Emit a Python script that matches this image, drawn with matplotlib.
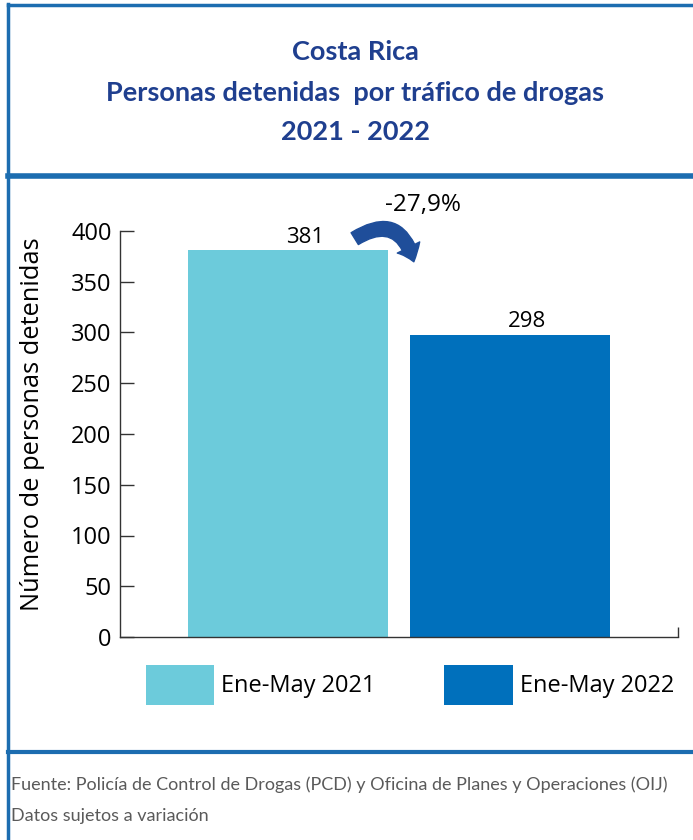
import matplotlib.pyplot as plt
from matplotlib.patches import FancyArrowPatch
from matplotlib.lines import Line2D

# data
categories = ["Ene-May 2021", "Ene-May 2022"]
values = [381, 298]
bar_colors = ["#6ccbdb", "#0070bc"]
change_label = "-27,9%"
y_ticks = [0, 50, 100, 150, 200, 250, 300, 350, 400]

title_lines = ["Costa Rica", "Personas detenidas  por tráfico de drogas", "2021 - 2022"]
source_lines = ["Fuente: Policía de Control de Drogas (PCD) y Oficina de Planes y Operaciones (OIJ)",
                "Datos sujetos a variación"]

W, H = 693, 840
plt.rcParams['font.family'] = ['Open Sans', 'DejaVu Sans']
fig = plt.figure(figsize=(W / 100, H / 100), dpi=100)

border = "#1c6db0"
# frame lines (figure pixels -> fractions)
def fx(px):
    return px / W

def fy(py):
    return 1 - py / H

fig.add_artist(Line2D([fx(8), 1], [fy(5), fy(5)], color=border, lw=2.5))
fig.add_artist(Line2D([fx(8), fx(8)], [fy(4), 0], color=border, lw=2.5))
fig.add_artist(Line2D([fx(8), 1], [fy(176), fy(176)], color=border, lw=4))
fig.add_artist(Line2D([fx(8), 1], [fy(752), fy(752)], color=border, lw=3))

# title
title_color = "#1f3f8f"
for line, ypx in zip(title_lines, [52, 93, 132]):
    fig.text(fx(355), fy(ypx), line, ha="center", va="center", color=title_color,
             fontsize=19.5, fontweight="bold", family=["Lato", "DejaVu Sans"])

# axes
ax = fig.add_axes([fx(120), fy(637), fx(678) - fx(120), fy(231) - fy(637)])
x = range(len(categories))
bars = ax.bar(x, values, width=0.9, color=bar_colors, label=categories)
ax.set_xlim(-0.757, 1.757)
ax.set_ylim(0, 400)
ax.set_yticks(y_ticks)
ax.set_xticks([1.757])
ax.set_xticklabels([])
ax.tick_params(axis="y", direction="in", length=10, width=1, labelsize=17, pad=6, color="#333333")
ax.tick_params(axis="x", direction="in", length=7, width=1, color="#333333")
for s in ["top", "right"]:
    ax.spines[s].set_visible(False)
for s in ["left", "bottom"]:
    ax.spines[s].set_color("#333333")
    ax.spines[s].set_linewidth(1)

# value labels
for xi, v in zip(x, values):
    ax.annotate(str(v), (xi, v), xytext=(12, 2), textcoords="offset points",
                ha="center", va="bottom", fontsize=16)

# curved arrow with the change
arrow = FancyArrowPatch((0.29, 391), (0.57, 367), connectionstyle="arc3,rad=-0.7",
                        arrowstyle="simple,head_width=18,head_length=11,tail_width=10",
                        color="#1f4e9a", clip_on=False)
ax.add_patch(arrow)
fig.text(fx(423), fy(205), change_label, ha="center", va="center", fontsize=17.5)

fig.text(fx(33), fy(424), "Número de personas detenidas", rotation=90,
         ha="center", va="center", fontsize=18.3)

# legend
fig.legend(handles=bars.patches, labels=categories, loc="center", ncol=2,
           bbox_to_anchor=(fx(410), fy(685)), frameon=False, fontsize=17,
           handlelength=2.9, handleheight=2.2, handletextpad=0.3,
           columnspacing=2.9, borderpad=0)

# source note
for line, ypx in zip(source_lines, [785, 816]):
    fig.text(fx(11), fy(ypx), line, ha="left", va="center", color="#5a5a5a",
             fontsize=13, fontweight="normal", family=["Lato", "DejaVu Sans"])

fig.savefig("out.png", dpi=100)
